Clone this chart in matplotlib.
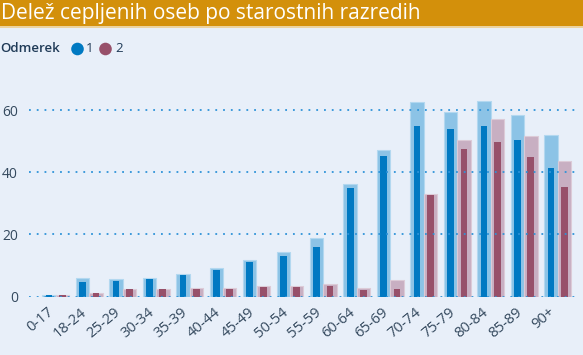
import matplotlib
matplotlib.use("Agg")
import matplotlib.pyplot as plt
import matplotlib.transforms as mtransforms
from matplotlib.patches import Rectangle, Ellipse
import numpy as np

categories = ["0-17", "18-24", "25-29", "30-34", "35-39", "40-44", "45-49", "50-54",
              "55-59", "60-64", "65-69", "70-74", "75-79", "80-84", "85-89", "90+"]
dose1_outer = [0.6, 5.9, 5.6, 6.1, 7.4, 9.2, 11.8, 14.4, 19.0, 36.2, 47.2, 62.6, 59.3, 62.9, 58.3, 52.0]
dose1_inner = [0.5, 4.6, 5.1, 5.7, 7.0, 8.6, 11.1, 13.2, 16.0, 34.8, 45.1, 54.9, 53.9, 54.9, 50.4, 41.4]
dose2_outer = [0.6, 1.3, 2.6, 2.6, 2.7, 2.8, 3.4, 3.4, 4.1, 2.7, 5.4, 32.9, 50.4, 57.1, 51.7, 43.6]
dose2_inner = [0.4, 1.2, 2.4, 2.4, 2.5, 2.6, 3.1, 3.1, 3.5, 2.1, 2.6, 32.7, 47.4, 49.7, 44.9, 35.3]
yticks = [0, 20, 40, 60]
title = "Delež cepljenih oseb po starostnih razredih"
legend_title = "Odmerek"
legend_labels = ["1", "2"]

BG = "#E8EFF9"
ORANGE = "#D3900B"
DARK_BLUE = "#0079C2"
LIGHT_BLUE = "#8CC3E6"
DARK_MAUVE = "#97506A"
LIGHT_MAUVE = "#C8AFC2"
TEXT = "#34495E"
GRID = "#2E93D8"

plt.rcParams['font.family'] = ['Open Sans', 'DejaVu Sans']

W, H = 583, 355
fig = plt.figure(figsize=(W / 100, H / 100), dpi=100)
fig.patch.set_facecolor(BG)

# title bar
fig.patches.append(Rectangle((0, 1 - 26 / H), 1, 26 / H, transform=fig.transFigure,
                             facecolor=ORANGE, edgecolor='none', zorder=0))
fig.patches.append(Rectangle((0, 1 - 27.5 / H), 1, 1.5 / H, transform=fig.transFigure,
                             facecolor="#EBD3A0", edgecolor='none', zorder=0))
fig.text(1 / W, 1 - 13.5 / H, title, color="white", fontsize=15, va='center', ha='left')

# legend
ly = 1 - 49 / H
fig.text(0 / W, ly, legend_title, color="#1F3A57", fontsize=9.5, fontweight='semibold',
         va='center', ha='left')
for cx, tx, col, lab in [(77.5, 85.5, DARK_BLUE, legend_labels[0]),
                         (105.5, 115.5, DARK_MAUVE, legend_labels[1])]:
    fig.patches.append(Ellipse((cx / W, ly), 12.6 / W, 12.6 / H, transform=fig.transFigure,
                               facecolor=col, edgecolor='none'))
    fig.text(tx / W, ly, lab, color="#1F3A57", fontsize=9.5, va='center', ha='left')

# axes
left_px, right_px = 29, 575
zero_px = 296.7
px_per_unit = (296.7 - 110) / 60
ytop = 66
ax = fig.add_axes([left_px / W, (H - zero_px) / H, (right_px - left_px) / W, ytop * px_per_unit / H])
ax.set_facecolor(BG)
x = np.arange(len(categories))
ax.bar(x - 0.2, dose1_outer, width=0.4, color=LIGHT_BLUE, edgecolor="#B3D8F0", linewidth=0.8, zorder=2)
ax.bar(x + 0.2, dose2_outer, width=0.4, color=LIGHT_MAUVE, edgecolor="#DCCBD7", linewidth=0.8, zorder=2)
ax.bar(x - 0.2, dose1_inner, width=0.2, color=DARK_BLUE, edgecolor='none', zorder=3)
ax.bar(x + 0.2, dose2_inner, width=0.2, color=DARK_MAUVE, edgecolor='none', zorder=3)

for yv in yticks:
    ax.axhline(yv, color=GRID, linewidth=1.3, linestyle=(0, (1, 3.3)), zorder=4,
               dash_capstyle='butt')

ax.set_xlim(-0.80, 15.52)
ax.set_ylim(0, ytop)
ax.set_yticks(yticks)
ax.set_yticklabels([str(v) for v in yticks])
ax.set_xticks(x)
ax.set_xticklabels([])
blend = mtransforms.blended_transform_factory(ax.transData, ax.transAxes)
offset = mtransforms.ScaledTranslation(-9 / 100, -8 / 100, fig.dpi_scale_trans)
for xi, lab in zip(x, categories):
    ax.text(xi, 0, lab, transform=blend + offset, rotation=40, ha='right', va='top',
            rotation_mode='anchor', fontsize=10.5, color=TEXT, clip_on=False)
ax.tick_params(axis='both', length=0, colors=TEXT)
ax.tick_params(axis='y', pad=8, labelsize=10)
for s in ax.spines.values():
    s.set_visible(False)

fig.savefig("out.png", dpi=100, facecolor=BG)
